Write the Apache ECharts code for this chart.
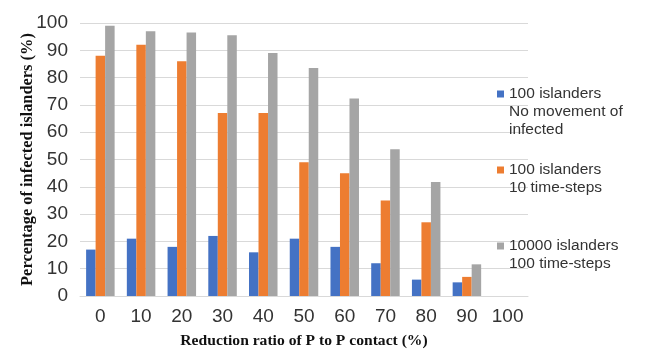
<!DOCTYPE html>
<html>
<head>
<meta charset="utf-8">
<script src="https://cdn.jsdelivr.net/npm/echarts@6/dist/echarts.min.js"></script>
<style>html,body{margin:0;padding:0;background:#fff}#c{width:650px;height:360px}</style>
</head>
<body>
<div id="c"></div>
<script>
const categories = ['0','10','20','30','40','50','60','70','80','90','100'];
const seriesNames = ['100 islanders\nNo movement of\ninfected', '100 islanders\n10 time-steps', '10000 islanders\n100 time-steps'];
const noMovement = [17, 21, 18, 22, 16, 21, 18, 12, 6, 5, 0];
const tenSteps = [88, 92, 86, 67, 67, 49, 45, 35, 27, 7, 0];
const hundredSteps = [99, 97, 96.5, 95.5, 89, 83.5, 72.3, 53.8, 41.8, 11.6, 0];
const colors = ['#4472C4', '#ED7D31', '#A5A5A5'];

const chart = echarts.init(document.getElementById('c'));
// pad blank lines above so that the marker sits beside the first text line
function padTop(name) {
  const n = name.split('\n').length;
  return ' \n'.repeat(n - 1) + name;
}
const legendBase = {
  orient: 'vertical', left: 492, itemWidth: 7, itemHeight: 7, icon: 'rect',
  selectedMode: false, formatter: padTop,
  textStyle: {fontFamily: 'Liberation Sans, Arial', fontSize: 15.5, color: '#333', lineHeight: 18}
};
chart.setOption({
  animation: false,
  color: colors,
  grid: {left: 80, right: 122, top: 23, bottom: 64},
  legend: [
    Object.assign({}, legendBase, {top: 44, data: [seriesNames[0]]}),
    Object.assign({}, legendBase, {top: 138, data: [seriesNames[1]]}),
    Object.assign({}, legendBase, {top: 214, data: [seriesNames[2]]})
  ],
  xAxis: {
    type: 'category', data: categories,
    axisLine: {lineStyle: {color: '#d9d9d9'}}, axisTick: {show: false},
    axisLabel: {interval: 0, fontFamily: 'Liberation Sans, Arial', fontSize: 19, color: '#333', margin: 11},
    name: 'Reduction ratio of P to P contact (%)', nameLocation: 'middle', nameGap: 37, nameMoveOverlap: false,
    nameTextStyle: {fontFamily: 'Liberation Serif, Times New Roman', fontWeight: 'bold', fontSize: 15.6, color: '#111'}
  },
  yAxis: {
    type: 'value', min: 0, max: 100, interval: 10,
    axisLine: {show: false}, axisTick: {show: false},
    splitLine: {lineStyle: {color: '#d9d9d9'}},
    axisLabel: {fontFamily: 'Liberation Sans, Arial', fontSize: 19, color: '#333', margin: 12},
    name: 'Percentage of infected islanders (%)', nameLocation: 'middle', nameGap: 44, nameMoveOverlap: false,
    nameTextStyle: {fontFamily: 'Liberation Serif, Times New Roman', fontWeight: 'bold', fontSize: 16.4, color: '#111'}
  },
  series: [
    {name: seriesNames[0], type: 'bar', data: noMovement, barGap: '0%', barCategoryGap: '30%'},
    {name: seriesNames[1], type: 'bar', data: tenSteps, barGap: '0%', barCategoryGap: '30%'},
    {name: seriesNames[2], type: 'bar', data: hundredSteps, barGap: '0%', barCategoryGap: '30%'}
  ]
});
</script>
</body>
</html>
